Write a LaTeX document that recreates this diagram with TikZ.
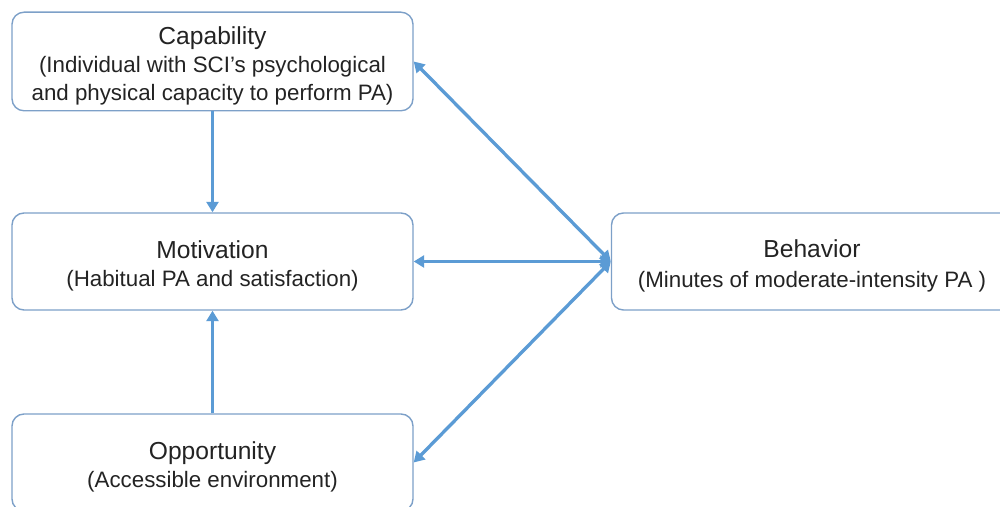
\documentclass[tikz,border=0pt]{standalone}
\usepackage{fontspec}
\setmainfont{Liberation Sans}
\usetikzlibrary{arrows.meta}
\definecolor{boxline}{RGB}{125,160,200}
\definecolor{arrline}{RGB}{91,155,213}
\definecolor{txt}{RGB}{35,35,35}
\newcommand{\ttl}[1]{{\fontsize{14}{15.9}\selectfont\rule{0pt}{15pt}#1}}
\begin{document}
\begin{tikzpicture}[
  comp/.style={draw=boxline,line width=0.8pt,rounded corners=0.24cm,
    minimum width=8.02cm,minimum height=1.94cm,align=center,text=txt,
    font=\fontsize{12.7}{15.9}\selectfont},
  link/.style={draw=arrline,line width=1.9pt,
    -{Triangle[length=0.21cm,width=0.24cm]}},
  both/.style={link,{Triangle[length=0.21cm,width=0.24cm]}-{Triangle[length=0.21cm,width=0.24cm]}}]
\clip (0,0) rectangle (20,10.14);
\node[comp] (cap) at (4.25,8.91) {\ttl{Capability}\\(Individual with SCI’s psychological\\and physical capacity to perform PA)};
\node[comp] (mot) at (4.25,4.91) {\ttl{Motivation}\\(Habitual PA and satisfaction)};
\node[comp] (opp) at (4.25,0.89) {\ttl{Opportunity}\\(Accessible environment)};
\node[comp] (beh) at (16.24,4.91) {\ttl{Behavior}\\[1pt](Minutes of moderate-intensity PA )};
\draw[link] (cap) -- (mot);
\draw[link] (opp) -- (mot);
\draw[both] (cap.east) -- (beh.west);
\draw[both] (mot.east) -- (beh.west);
\draw[both] (opp.east) -- (beh.west);
\end{tikzpicture}
\end{document}
